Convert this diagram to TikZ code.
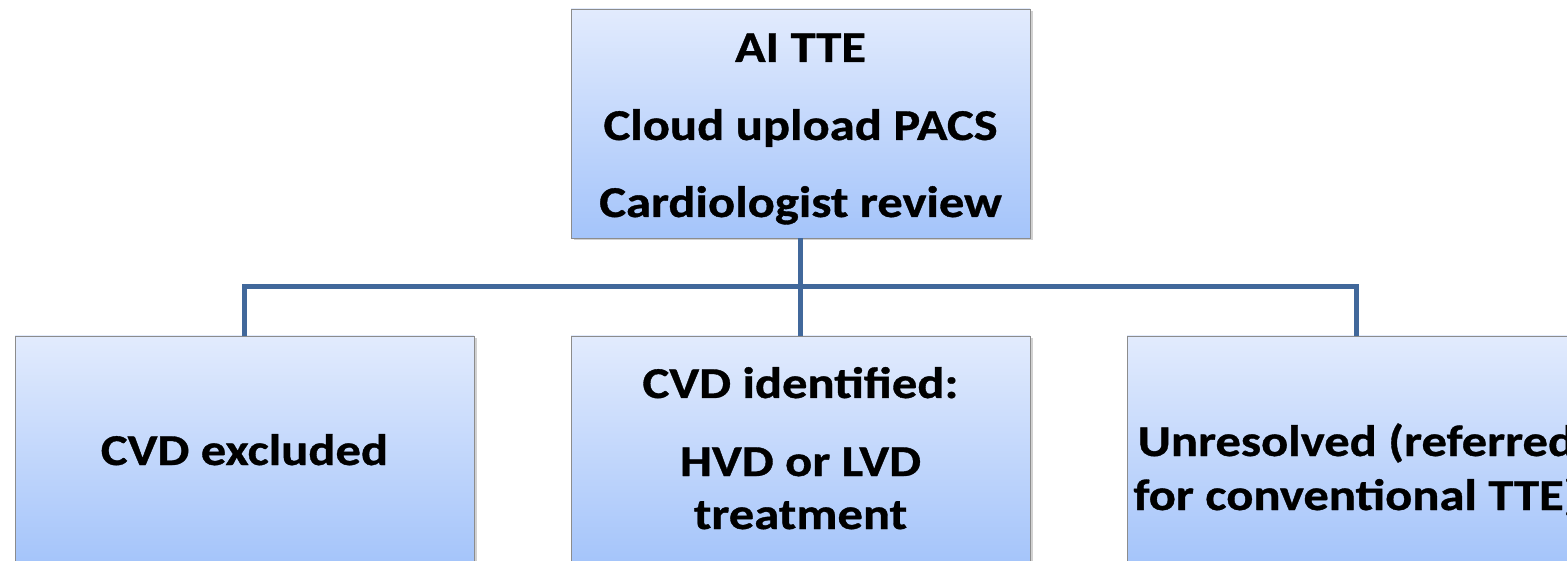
\documentclass[tikz,border=0pt]{standalone}
\usepackage{fontspec}
\setmainfont{Carlito}[FakeStretch=1.15, FakeBold=0.8]
\usetikzlibrary{shadows}
\definecolor{boxtop}{RGB}{226,235,253}
\definecolor{boxbot}{RGB}{164,196,250}
\definecolor{boxedge}{RGB}{140,140,140}
\definecolor{linkblue}{RGB}{65,104,155}
\tikzset{
  stagebox/.style={rectangle, draw=boxedge, line width=0.9pt,
    top color=boxtop, bottom color=boxbot,
    minimum width=459pt, minimum height=229pt, inner sep=0pt,
    drop shadow={shadow xshift=2.5pt, shadow yshift=-2.5pt, opacity=0.3, fill=black!60}},
  boxline/.style={anchor=base, inner sep=0pt, font=\bfseries\fontsize{44}{53}\selectfont},
  link/.style={draw=linkblue, line width=5pt}
}
\begin{document}
\begin{tikzpicture}[x=1pt, y=-1pt]
\useasboundingbox (0,0) rectangle (1567,561);
\clip (0,0) rectangle (1567,561);
% boxes
\node[stagebox] (top) at (800.5,123.5) {};
\node[stagebox] (left) at (244.5,450.5) {};
\node[stagebox] (mid) at (800.5,450.5) {};
\node[stagebox] (right) at (1356.5,450.5) {};
% box texts, one node per line, placed on their baselines
\node[boxline] (top1) at (800.5,62) {AI TTE};
\node[boxline] (top2) at (800.5,140) {Cloud upload PACS};
\node[boxline] (top3) at (800.5,217) {Cardiologist review};
\node[boxline] (left1) at (244.5,465) {CVD excluded};
\node[boxline] (mid1) at (800.5,398) {CVD identified:};
\node[boxline] (mid2) at (800.5,476) {HVD or LVD};
\node[boxline] (mid3) at (800.5,529) {treatment};
\node[boxline] (right1) at (1356.5,456) {Unresolved (referred};
\node[boxline] (right2) at (1356.5,510) {for conventional TTE)};
% connectors
\coordinate (j) at (800.5,287);
\draw[link] (top.south) -- (mid.north);
\draw[link] (left.north) |- (j) -| (right.north);
\end{tikzpicture}
\end{document}
